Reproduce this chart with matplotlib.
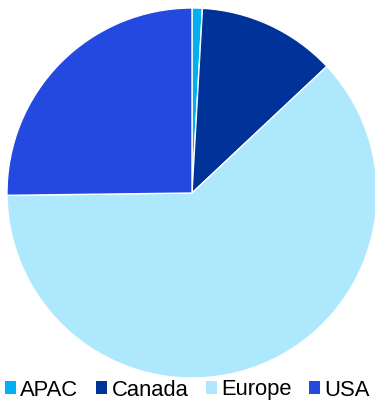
import matplotlib
matplotlib.use("Agg")
import matplotlib.pyplot as plt
from matplotlib.patches import Patch

categories = ["APAC", "Canada", "Europe", "USA"]
values = [0.9, 12.1, 61.8, 25.2]
colors = ["#00B0F0", "#003399", "#ADE8FC", "#2449E0"]

plt.rcParams['font.family'] = ['Liberation Sans', 'DejaVu Sans']

fig = plt.figure(figsize=(3.75, 4.0), dpi=100)
ax = fig.add_axes([7/375, 22/400, 370/375, 370/400])
ax.pie(values, colors=colors, startangle=90, counterclock=False,
       wedgeprops=dict(edgecolor="white", linewidth=1.0))
ax.set_xlim(-1, 1)
ax.set_ylim(-1, 1)
ax.set_aspect("equal")
ax.axis("off")

handles = [Patch(facecolor=c, edgecolor="none") for c in colors]
fig.legend(handles, categories, loc="center", bbox_to_anchor=(0.5, 10/400),
           ncol=4, frameon=False, fontsize=15.8, handlelength=0.5, handleheight=0.5,
           handletextpad=0.2, columnspacing=0.8, borderaxespad=0, borderpad=0)
fig.savefig("out.png", dpi=100)
